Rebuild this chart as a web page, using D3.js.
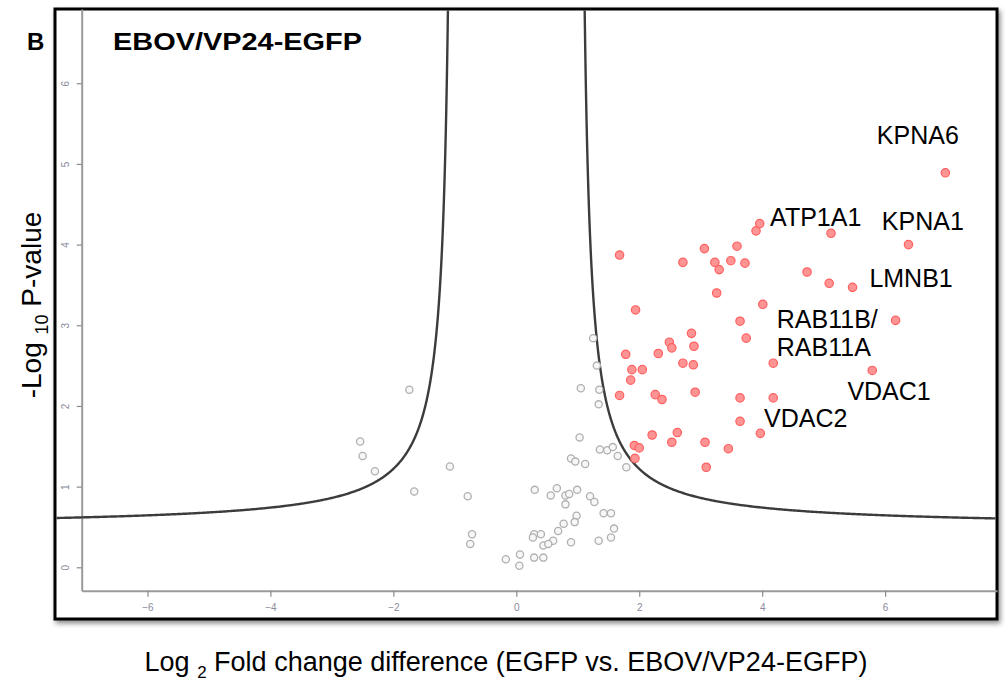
<!DOCTYPE html>
<html>
<head>
<meta charset="utf-8">
<script src="https://cdn.jsdelivr.net/npm/d3@7"></script>
<style>
  body { margin: 0; background: #fff; }
  svg { display: block; font-family: "Liberation Sans", Arial, sans-serif; }
</style>
</head>
<body>
<div id="chart"></div>
<script>
(function(){

const width = 1008;
const height = 684;

// data: [log2 fold change, -log10 p]
const sigPoints = [
  [3.96,4.26],[3.90,4.17],[5.12,4.14],[1.68,3.87],[3.06,3.95],[3.59,3.98],
  [2.71,3.78],[3.23,3.78],[3.30,3.69],[3.49,3.80],[3.72,3.77],[4.73,3.66],
  [5.09,3.52],[5.47,3.47],[3.26,3.40],[4.01,3.26],[1.94,3.19],[3.64,3.05],
  [2.85,2.90],[3.74,2.84],[2.49,2.79],[2.53,2.72],[2.89,2.74],[1.78,2.64],
  [2.31,2.65],[2.71,2.53],[2.88,2.51],[4.18,2.53],[1.88,2.45],[2.05,2.45],
  [1.86,2.32],[5.79,2.44],[1.68,2.13],[2.26,2.14],[2.37,2.08],[2.91,2.17],
  [3.64,2.10],[4.18,2.10],[3.64,1.81],[3.97,1.66],[2.21,1.64],[2.62,1.67],
  [2.53,1.55],[3.07,1.55],[3.45,1.47],[1.92,1.51],[2.00,1.48],[1.93,1.35],
  [3.09,1.24],[6.98,4.89],[6.38,4.00],[6.17,3.06]
];

const nonSigPoints = [
  [-1.74,2.20],[-2.54,1.56],[-2.50,1.38],[-2.30,1.19],[-1.08,1.25],[-1.66,0.94],
  [-0.79,0.88],[-0.72,0.41],[-0.75,0.29],[1.05,2.22],[1.35,2.20],[1.34,2.02],
  [1.03,1.61],[1.36,1.46],[1.48,1.45],[1.57,1.49],[1.65,1.38],[1.79,1.24],
  [0.89,1.35],[0.96,1.31],[1.12,1.28],[0.30,0.96],[0.66,0.98],[0.56,0.89],
  [0.80,0.89],[0.86,0.91],[0.99,0.96],[1.20,0.88],[1.27,0.81],[0.80,0.78],
  [0.98,0.64],[0.95,0.56],[0.77,0.54],[0.68,0.45],[1.42,0.67],[1.54,0.67],
  [1.59,0.48],[1.54,0.37],[1.34,0.33],[0.89,0.31],[0.29,0.41],[0.40,0.41],
  [0.27,0.37],[0.60,0.33],[0.44,0.27],[0.52,0.29],[0.06,0.16],[-0.17,0.10],
  [0.05,0.02],[0.29,0.12],[0.44,0.12],[1.25,2.84],[1.31,2.50]
];

const geneNames = ["KPNA6","ATP1A1","KPNA1","LMNB1","RAB11B/","RAB11A","VDAC1","VDAC2"];
const geneLabelX = [5.865, 4.129, 5.946, 5.744, 4.238, 4.238, 5.386, 4.031];
const geneLabelY = [5.247, 4.230, 4.181, 3.470, 2.962, 2.619, 2.074, 1.743];

const xTicks = [-6,-4,-2,0,2,4,6];
const yTicks = [0,1,2,3,4,5,6];

// significance threshold curve (s0-type hyperbola)
const curveX0 = 1.0, curveC = 0.72, curveY0 = 0.5;

const frame = {x:55, y:9, w:942, h:610};

const svg = d3.select("#chart")
  .append("svg")
  .attr("width", width)
  .attr("height", height);

const defs = svg.append("defs");
const shadow = defs.append("filter").attr("id","shadow")
  .attr("x","-5%").attr("y","-5%").attr("width","110%").attr("height","110%");
shadow.append("feDropShadow")
  .attr("dx",2).attr("dy",3).attr("stdDeviation",2.5)
  .attr("flood-color","#000").attr("flood-opacity",0.45);

defs.append("clipPath").attr("id","plotClip")
  .append("rect")
  .attr("x", frame.x + 1.5).attr("y", frame.y + 1.5)
  .attr("width", frame.w - 3).attr("height", frame.h - 3);

// frame with shadow
svg.append("rect")
  .attr("x", frame.x).attr("y", frame.y)
  .attr("width", frame.w).attr("height", frame.h)
  .attr("fill", "#fff")
  .attr("stroke", "#000")
  .attr("stroke-width", 3)
  .attr("filter", "url(#shadow)");

// scales
const x = d3.scaleLinear().domain([-7.07, 7.82]).range([81.7, 997]);
const y = d3.scaleLinear().domain([-0.29, 6.92]).range([590.7, 9]);

// X axis
const gx = svg.append("g")
  .attr("transform", `translate(0,${y.range()[0]})`)
  .call(d3.axisBottom(x).tickValues(xTicks).tickSize(6).tickSizeOuter(0).tickPadding(5));

// Y axis
const gy = svg.append("g")
  .attr("transform", `translate(${x.range()[0]},0)`)
  .call(d3.axisLeft(y).tickValues(yTicks).tickSize(5).tickSizeOuter(0));

[gx, gy].forEach(g => {
  g.select(".domain").attr("stroke", "#9a9a9a").attr("stroke-width", 2);
  g.selectAll(".tick line").attr("stroke", "#8a8a8a").attr("stroke-width", 1.2);
  g.selectAll(".tick text")
    .attr("fill", "#8a8a9c")
    .style("font-size", "10px");
});

gy.selectAll(".tick text")
  .attr("x", null).attr("dy", null)
  .attr("text-anchor", "middle")
  .attr("dominant-baseline", "central")
  .attr("transform", "translate(-16,0) rotate(-90)");

gx.selectAll(".tick text").attr("dy", "0.9em");

// threshold curve
const plot = svg.append("g").attr("clip-path", "url(#plotClip)");

const branch = d3.range(0, 1.0001, 0.002).map(t => curveX0 + 0.07 + t * t * 7.0);
const curve = d3.line()
  .x(d => x(d))
  .y(d => y(curveY0 + curveC / (Math.abs(d) - curveX0)));

plot.append("path")
  .datum(branch)
  .attr("fill", "none")
  .attr("stroke", "#3c3c3c")
  .attr("stroke-width", 2.4)
  .attr("d", curve);

plot.append("path")
  .datum(branch.map(d => -d))
  .attr("fill", "none")
  .attr("stroke", "#3c3c3c")
  .attr("stroke-width", 2.4)
  .attr("d", curve);

// non-significant points
plot.selectAll("circle.ns")
  .data(nonSigPoints)
  .enter()
  .append("circle")
  .attr("class", "ns")
  .attr("cx", d => x(d[0]))
  .attr("cy", d => y(d[1]))
  .attr("r", 3.6)
  .attr("fill", "#f7f7f7")
  .attr("stroke", "#b0b0b0")
  .attr("stroke-width", 1.3);

// significant points
plot.selectAll("circle.sig")
  .data(sigPoints)
  .enter()
  .append("circle")
  .attr("class", "sig")
  .attr("cx", d => x(d[0]))
  .attr("cy", d => y(d[1]))
  .attr("r", 4.2)
  .attr("fill", "#ff9494")
  .attr("stroke", "#ff6060")
  .attr("stroke-width", 1.2);

// gene labels
svg.selectAll("text.gene")
  .data(geneNames)
  .enter()
  .append("text")
  .attr("class", "gene")
  .attr("x", (d, i) => x(geneLabelX[i]))
  .attr("y", (d, i) => y(geneLabelY[i]))
  .style("font-size", "25px")
  .attr("fill", "#000")
  .text(d => d);

// panel letter and title
svg.append("text")
  .attr("x", 27).attr("y", 50)
  .style("font-size", "24px")
  .style("font-weight", "bold")
  .text("B");

svg.append("text")
  .attr("x", 113).attr("y", 50)
  .style("font-size", "24px")
  .style("font-weight", "bold")
  .attr("textLength", 249)
  .attr("lengthAdjust", "spacingAndGlyphs")
  .text("EBOV/VP24-EGFP");

// axis titles
const xTitle = svg.append("text")
  .attr("x", 506).attr("y", 671)
  .attr("text-anchor", "middle")
  .style("font-size", "27px");
xTitle.append("tspan").text("Log ");
xTitle.append("tspan").attr("dy", 7).style("font-size", "17px").text("2");
xTitle.append("tspan").attr("dy", -7).text(" Fold change difference (EGFP vs. EBOV/VP24-EGFP)");

const yTitle = svg.append("text")
  .attr("transform", "translate(41,305) rotate(-90)")
  .attr("text-anchor", "middle")
  .style("font-size", "28px");
yTitle.append("tspan").text("-Log ");
yTitle.append("tspan").attr("dy", 7).style("font-size", "18px").text("10");
yTitle.append("tspan").attr("dy", -7).text(" P-value");

})();
</script>
</body>
</html>
